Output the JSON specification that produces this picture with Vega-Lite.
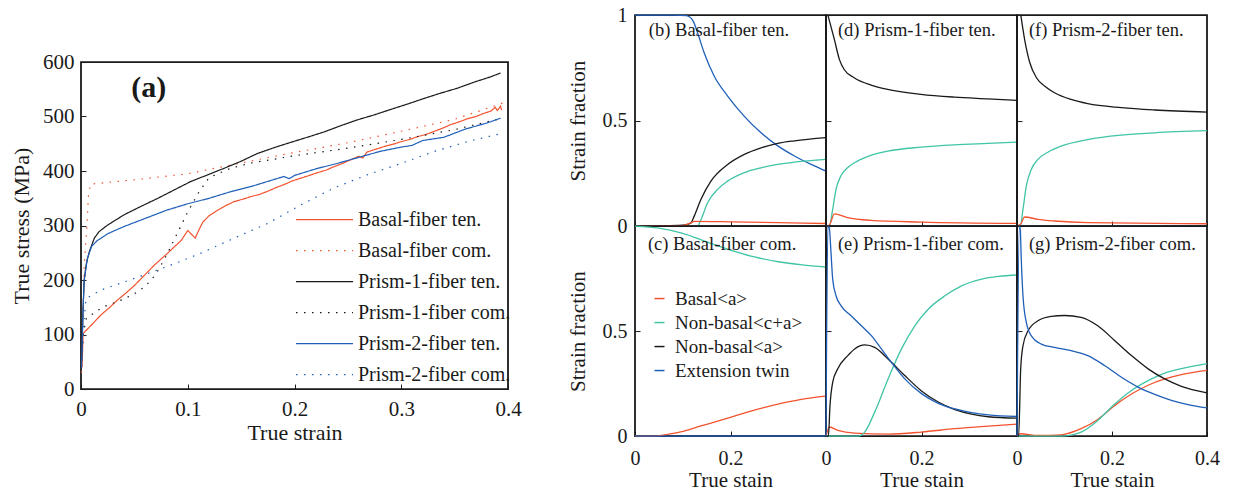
{
  "$schema": "https://vega.github.io/schema/vega-lite/v6.json",
  "padding": {"left": 9, "top": 4, "right": 4, "bottom": 0},
  "config": {
    "font": "Liberation Serif",
    "view": {"stroke": "#1a1a1a", "strokeWidth": 1.8},
    "axis": {
      "domain": false, "grid": false, "tickSize": -5, "tickColor": "#1a1a1a", "tickWidth": 1,
      "labelColor": "#1a1a1a", "titleColor": "#1a1a1a", "titleFontWeight": "normal",
      "labelFontSize": 20, "titleFontSize": 21, "labelPadding": 12,
      "labelFlush": false, "labelOverlap": false
    },
    "legend": {"labelColor": "#1a1a1a", "padding": 0}
  },
  "datasets": {
    "stress": [
      {"series": "Basal-fiber ten.", "strain": 0.001, "stress": 40},
      {"series": "Basal-fiber ten.", "strain": 0.002, "stress": 102},
      {"series": "Basal-fiber ten.", "strain": 0.01, "stress": 118},
      {"series": "Basal-fiber ten.", "strain": 0.0187, "stress": 136},
      {"series": "Basal-fiber ten.", "strain": 0.027, "stress": 150},
      {"series": "Basal-fiber ten.", "strain": 0.034, "stress": 163},
      {"series": "Basal-fiber ten.", "strain": 0.042, "stress": 176},
      {"series": "Basal-fiber ten.", "strain": 0.05, "stress": 190},
      {"series": "Basal-fiber ten.", "strain": 0.059, "stress": 208},
      {"series": "Basal-fiber ten.", "strain": 0.069, "stress": 228},
      {"series": "Basal-fiber ten.", "strain": 0.081, "stress": 249},
      {"series": "Basal-fiber ten.", "strain": 0.088, "stress": 262},
      {"series": "Basal-fiber ten.", "strain": 0.094, "stress": 273},
      {"series": "Basal-fiber ten.", "strain": 0.1, "stress": 291},
      {"series": "Basal-fiber ten.", "strain": 0.103, "stress": 285},
      {"series": "Basal-fiber ten.", "strain": 0.107, "stress": 277},
      {"series": "Basal-fiber ten.", "strain": 0.11, "stress": 290},
      {"series": "Basal-fiber ten.", "strain": 0.114, "stress": 306},
      {"series": "Basal-fiber ten.", "strain": 0.12, "stress": 318},
      {"series": "Basal-fiber ten.", "strain": 0.128, "stress": 328},
      {"series": "Basal-fiber ten.", "strain": 0.136, "stress": 337},
      {"series": "Basal-fiber ten.", "strain": 0.1435, "stress": 344},
      {"series": "Basal-fiber ten.", "strain": 0.151, "stress": 348},
      {"series": "Basal-fiber ten.", "strain": 0.159, "stress": 353},
      {"series": "Basal-fiber ten.", "strain": 0.167, "stress": 357},
      {"series": "Basal-fiber ten.", "strain": 0.175, "stress": 363},
      {"series": "Basal-fiber ten.", "strain": 0.183, "stress": 370},
      {"series": "Basal-fiber ten.", "strain": 0.19, "stress": 375},
      {"series": "Basal-fiber ten.", "strain": 0.198, "stress": 382},
      {"series": "Basal-fiber ten.", "strain": 0.206, "stress": 387},
      {"series": "Basal-fiber ten.", "strain": 0.214, "stress": 392},
      {"series": "Basal-fiber ten.", "strain": 0.2215, "stress": 397},
      {"series": "Basal-fiber ten.", "strain": 0.23, "stress": 402},
      {"series": "Basal-fiber ten.", "strain": 0.237, "stress": 408},
      {"series": "Basal-fiber ten.", "strain": 0.245, "stress": 414},
      {"series": "Basal-fiber ten.", "strain": 0.253, "stress": 421},
      {"series": "Basal-fiber ten.", "strain": 0.26, "stress": 427},
      {"series": "Basal-fiber ten.", "strain": 0.264, "stress": 424},
      {"series": "Basal-fiber ten.", "strain": 0.268, "stress": 435},
      {"series": "Basal-fiber ten.", "strain": 0.276, "stress": 440},
      {"series": "Basal-fiber ten.", "strain": 0.284, "stress": 445},
      {"series": "Basal-fiber ten.", "strain": 0.292, "stress": 449},
      {"series": "Basal-fiber ten.", "strain": 0.3, "stress": 454},
      {"series": "Basal-fiber ten.", "strain": 0.308, "stress": 458},
      {"series": "Basal-fiber ten.", "strain": 0.315, "stress": 463},
      {"series": "Basal-fiber ten.", "strain": 0.323, "stress": 467},
      {"series": "Basal-fiber ten.", "strain": 0.331, "stress": 473},
      {"series": "Basal-fiber ten.", "strain": 0.338, "stress": 478},
      {"series": "Basal-fiber ten.", "strain": 0.346, "stress": 485},
      {"series": "Basal-fiber ten.", "strain": 0.354, "stress": 490},
      {"series": "Basal-fiber ten.", "strain": 0.362, "stress": 496},
      {"series": "Basal-fiber ten.", "strain": 0.37, "stress": 500},
      {"series": "Basal-fiber ten.", "strain": 0.3775, "stress": 506},
      {"series": "Basal-fiber ten.", "strain": 0.384, "stress": 510},
      {"series": "Basal-fiber ten.", "strain": 0.388, "stress": 517},
      {"series": "Basal-fiber ten.", "strain": 0.39, "stress": 511},
      {"series": "Basal-fiber ten.", "strain": 0.393, "stress": 519},
      {"series": "Basal-fiber ten.", "strain": 0.394, "stress": 512},

      {"series": "Basal-fiber com.", "strain": 0.0005, "stress": 30},
      {"series": "Basal-fiber com.", "strain": 0.003, "stress": 226},
      {"series": "Basal-fiber com.", "strain": 0.0056, "stress": 300},
      {"series": "Basal-fiber com.", "strain": 0.007, "stress": 356},
      {"series": "Basal-fiber com.", "strain": 0.009, "stress": 376},
      {"series": "Basal-fiber com.", "strain": 0.05, "stress": 384},
      {"series": "Basal-fiber com.", "strain": 0.1, "stress": 395},
      {"series": "Basal-fiber com.", "strain": 0.15, "stress": 415},
      {"series": "Basal-fiber com.", "strain": 0.2, "stress": 434},
      {"series": "Basal-fiber com.", "strain": 0.25, "stress": 452},
      {"series": "Basal-fiber com.", "strain": 0.3, "stress": 473},
      {"series": "Basal-fiber com.", "strain": 0.35, "stress": 495},
      {"series": "Basal-fiber com.", "strain": 0.4, "stress": 528},

      {"series": "Prism-1-fiber ten.", "strain": 0.0005, "stress": 50},
      {"series": "Prism-1-fiber ten.", "strain": 0.002, "stress": 150},
      {"series": "Prism-1-fiber ten.", "strain": 0.003, "stress": 200},
      {"series": "Prism-1-fiber ten.", "strain": 0.005, "stress": 230},
      {"series": "Prism-1-fiber ten.", "strain": 0.0078, "stress": 252},
      {"series": "Prism-1-fiber ten.", "strain": 0.0125, "stress": 277},
      {"series": "Prism-1-fiber ten.", "strain": 0.017, "stress": 289},
      {"series": "Prism-1-fiber ten.", "strain": 0.025, "stress": 301},
      {"series": "Prism-1-fiber ten.", "strain": 0.0406, "stress": 320},
      {"series": "Prism-1-fiber ten.", "strain": 0.056, "stress": 335},
      {"series": "Prism-1-fiber ten.", "strain": 0.072, "stress": 350},
      {"series": "Prism-1-fiber ten.", "strain": 0.087, "stress": 365},
      {"series": "Prism-1-fiber ten.", "strain": 0.103, "stress": 381},
      {"series": "Prism-1-fiber ten.", "strain": 0.1186, "stress": 393},
      {"series": "Prism-1-fiber ten.", "strain": 0.134, "stress": 405},
      {"series": "Prism-1-fiber ten.", "strain": 0.15, "stress": 418},
      {"series": "Prism-1-fiber ten.", "strain": 0.165, "stress": 432},
      {"series": "Prism-1-fiber ten.", "strain": 0.181, "stress": 443},
      {"series": "Prism-1-fiber ten.", "strain": 0.197, "stress": 453},
      {"series": "Prism-1-fiber ten.", "strain": 0.212, "stress": 462},
      {"series": "Prism-1-fiber ten.", "strain": 0.228, "stress": 472},
      {"series": "Prism-1-fiber ten.", "strain": 0.243, "stress": 483},
      {"series": "Prism-1-fiber ten.", "strain": 0.259, "stress": 494},
      {"series": "Prism-1-fiber ten.", "strain": 0.2746, "stress": 503},
      {"series": "Prism-1-fiber ten.", "strain": 0.29, "stress": 513},
      {"series": "Prism-1-fiber ten.", "strain": 0.306, "stress": 523},
      {"series": "Prism-1-fiber ten.", "strain": 0.321, "stress": 533},
      {"series": "Prism-1-fiber ten.", "strain": 0.337, "stress": 543},
      {"series": "Prism-1-fiber ten.", "strain": 0.3526, "stress": 552},
      {"series": "Prism-1-fiber ten.", "strain": 0.368, "stress": 563},
      {"series": "Prism-1-fiber ten.", "strain": 0.384, "stress": 573},
      {"series": "Prism-1-fiber ten.", "strain": 0.393, "stress": 580},

      {"series": "Prism-1-fiber com.", "strain": 0.0005, "stress": 40},
      {"series": "Prism-1-fiber com.", "strain": 0.002, "stress": 100},
      {"series": "Prism-1-fiber com.", "strain": 0.005, "stress": 130},
      {"series": "Prism-1-fiber com.", "strain": 0.02, "stress": 150},
      {"series": "Prism-1-fiber com.", "strain": 0.04, "stress": 165},
      {"series": "Prism-1-fiber com.", "strain": 0.05, "stress": 175},
      {"series": "Prism-1-fiber com.", "strain": 0.06, "stress": 188},
      {"series": "Prism-1-fiber com.", "strain": 0.07, "stress": 210},
      {"series": "Prism-1-fiber com.", "strain": 0.08, "stress": 245},
      {"series": "Prism-1-fiber com.", "strain": 0.09, "stress": 285},
      {"series": "Prism-1-fiber com.", "strain": 0.1, "stress": 325},
      {"series": "Prism-1-fiber com.", "strain": 0.11, "stress": 360},
      {"series": "Prism-1-fiber com.", "strain": 0.12, "stress": 388},
      {"series": "Prism-1-fiber com.", "strain": 0.14, "stress": 405},
      {"series": "Prism-1-fiber com.", "strain": 0.16, "stress": 415},
      {"series": "Prism-1-fiber com.", "strain": 0.2, "stress": 428},
      {"series": "Prism-1-fiber com.", "strain": 0.25, "stress": 442},
      {"series": "Prism-1-fiber com.", "strain": 0.3, "stress": 458},
      {"series": "Prism-1-fiber com.", "strain": 0.35, "stress": 476},
      {"series": "Prism-1-fiber com.", "strain": 0.395, "stress": 497},

      {"series": "Prism-2-fiber ten.", "strain": 0.0005, "stress": 40},
      {"series": "Prism-2-fiber ten.", "strain": 0.002, "stress": 150},
      {"series": "Prism-2-fiber ten.", "strain": 0.003, "stress": 200},
      {"series": "Prism-2-fiber ten.", "strain": 0.006, "stress": 240},
      {"series": "Prism-2-fiber ten.", "strain": 0.01, "stress": 262},
      {"series": "Prism-2-fiber ten.", "strain": 0.015, "stress": 272},
      {"series": "Prism-2-fiber ten.", "strain": 0.025, "stress": 285},
      {"series": "Prism-2-fiber ten.", "strain": 0.04, "stress": 298},
      {"series": "Prism-2-fiber ten.", "strain": 0.06, "stress": 313},
      {"series": "Prism-2-fiber ten.", "strain": 0.08, "stress": 328},
      {"series": "Prism-2-fiber ten.", "strain": 0.1, "stress": 340},
      {"series": "Prism-2-fiber ten.", "strain": 0.12, "stress": 350},
      {"series": "Prism-2-fiber ten.", "strain": 0.14, "stress": 362},
      {"series": "Prism-2-fiber ten.", "strain": 0.16, "stress": 372},
      {"series": "Prism-2-fiber ten.", "strain": 0.18, "stress": 384},
      {"series": "Prism-2-fiber ten.", "strain": 0.19, "stress": 390},
      {"series": "Prism-2-fiber ten.", "strain": 0.195, "stress": 386},
      {"series": "Prism-2-fiber ten.", "strain": 0.2, "stress": 392},
      {"series": "Prism-2-fiber ten.", "strain": 0.22, "stress": 404},
      {"series": "Prism-2-fiber ten.", "strain": 0.24, "stress": 414},
      {"series": "Prism-2-fiber ten.", "strain": 0.26, "stress": 425},
      {"series": "Prism-2-fiber ten.", "strain": 0.28, "stress": 436},
      {"series": "Prism-2-fiber ten.", "strain": 0.3, "stress": 444},
      {"series": "Prism-2-fiber ten.", "strain": 0.31, "stress": 447},
      {"series": "Prism-2-fiber ten.", "strain": 0.32, "stress": 456},
      {"series": "Prism-2-fiber ten.", "strain": 0.34, "stress": 462},
      {"series": "Prism-2-fiber ten.", "strain": 0.36, "stress": 477},
      {"series": "Prism-2-fiber ten.", "strain": 0.38, "stress": 488},
      {"series": "Prism-2-fiber ten.", "strain": 0.393, "stress": 497},

      {"series": "Prism-2-fiber com.", "strain": 0.0005, "stress": 40},
      {"series": "Prism-2-fiber com.", "strain": 0.003, "stress": 130},
      {"series": "Prism-2-fiber com.", "strain": 0.0047, "stress": 166},
      {"series": "Prism-2-fiber com.", "strain": 0.019, "stress": 182},
      {"series": "Prism-2-fiber com.", "strain": 0.05, "stress": 203},
      {"series": "Prism-2-fiber com.", "strain": 0.081, "stress": 225},
      {"series": "Prism-2-fiber com.", "strain": 0.112, "stress": 249},
      {"series": "Prism-2-fiber com.", "strain": 0.1435, "stress": 277},
      {"series": "Prism-2-fiber com.", "strain": 0.175, "stress": 304},
      {"series": "Prism-2-fiber com.", "strain": 0.206, "stress": 338},
      {"series": "Prism-2-fiber com.", "strain": 0.237, "stress": 369},
      {"series": "Prism-2-fiber com.", "strain": 0.268, "stress": 393},
      {"series": "Prism-2-fiber com.", "strain": 0.3, "stress": 414},
      {"series": "Prism-2-fiber com.", "strain": 0.331, "stress": 436},
      {"series": "Prism-2-fiber com.", "strain": 0.362, "stress": 454},
      {"series": "Prism-2-fiber com.", "strain": 0.396, "stress": 470}
    ],
    "frac": [
      {"panel": "b", "mode": "Extension twin", "strain": 0, "fraction": 1},
      {"panel": "b", "mode": "Extension twin", "strain": 0.08, "fraction": 1},
      {"panel": "b", "mode": "Extension twin", "strain": 0.108, "fraction": 0.997},
      {"panel": "b", "mode": "Extension twin", "strain": 0.121, "fraction": 0.975},
      {"panel": "b", "mode": "Extension twin", "strain": 0.131, "fraction": 0.916},
      {"panel": "b", "mode": "Extension twin", "strain": 0.145, "fraction": 0.82},
      {"panel": "b", "mode": "Extension twin", "strain": 0.166, "fraction": 0.71},
      {"panel": "b", "mode": "Extension twin", "strain": 0.194, "fraction": 0.616},
      {"panel": "b", "mode": "Extension twin", "strain": 0.229, "fraction": 0.52},
      {"panel": "b", "mode": "Extension twin", "strain": 0.264, "fraction": 0.442},
      {"panel": "b", "mode": "Extension twin", "strain": 0.299, "fraction": 0.38},
      {"panel": "b", "mode": "Extension twin", "strain": 0.334, "fraction": 0.332},
      {"panel": "b", "mode": "Extension twin", "strain": 0.369, "fraction": 0.292},
      {"panel": "b", "mode": "Extension twin", "strain": 0.4, "fraction": 0.26},
      {"panel": "b", "mode": "Non-basal<a>", "strain": 0, "fraction": 0},
      {"panel": "b", "mode": "Non-basal<a>", "strain": 0.09, "fraction": 0.003},
      {"panel": "b", "mode": "Non-basal<a>", "strain": 0.11, "fraction": 0.008},
      {"panel": "b", "mode": "Non-basal<a>", "strain": 0.117, "fraction": 0.014},
      {"panel": "b", "mode": "Non-basal<a>", "strain": 0.124, "fraction": 0.047},
      {"panel": "b", "mode": "Non-basal<a>", "strain": 0.138, "fraction": 0.126},
      {"panel": "b", "mode": "Non-basal<a>", "strain": 0.159, "fraction": 0.213},
      {"panel": "b", "mode": "Non-basal<a>", "strain": 0.194, "fraction": 0.292},
      {"panel": "b", "mode": "Non-basal<a>", "strain": 0.229, "fraction": 0.34},
      {"panel": "b", "mode": "Non-basal<a>", "strain": 0.264, "fraction": 0.371},
      {"panel": "b", "mode": "Non-basal<a>", "strain": 0.299, "fraction": 0.392},
      {"panel": "b", "mode": "Non-basal<a>", "strain": 0.334, "fraction": 0.404},
      {"panel": "b", "mode": "Non-basal<a>", "strain": 0.4, "fraction": 0.419},
      {"panel": "b", "mode": "Non-basal<c+a>", "strain": 0, "fraction": 0},
      {"panel": "b", "mode": "Non-basal<c+a>", "strain": 0.131, "fraction": 0},
      {"panel": "b", "mode": "Non-basal<c+a>", "strain": 0.138, "fraction": 0.03},
      {"panel": "b", "mode": "Non-basal<c+a>", "strain": 0.152, "fraction": 0.11},
      {"panel": "b", "mode": "Non-basal<c+a>", "strain": 0.173, "fraction": 0.174},
      {"panel": "b", "mode": "Non-basal<c+a>", "strain": 0.194, "fraction": 0.213},
      {"panel": "b", "mode": "Non-basal<c+a>", "strain": 0.229, "fraction": 0.253},
      {"panel": "b", "mode": "Non-basal<c+a>", "strain": 0.264, "fraction": 0.276},
      {"panel": "b", "mode": "Non-basal<c+a>", "strain": 0.299, "fraction": 0.292},
      {"panel": "b", "mode": "Non-basal<c+a>", "strain": 0.334, "fraction": 0.303},
      {"panel": "b", "mode": "Non-basal<c+a>", "strain": 0.4, "fraction": 0.316},
      {"panel": "b", "mode": "Basal<a>", "strain": 0, "fraction": 0},
      {"panel": "b", "mode": "Basal<a>", "strain": 0.1, "fraction": 0.002},
      {"panel": "b", "mode": "Basal<a>", "strain": 0.117, "fraction": 0.015},
      {"panel": "b", "mode": "Basal<a>", "strain": 0.124, "fraction": 0.022},
      {"panel": "b", "mode": "Basal<a>", "strain": 0.2, "fraction": 0.02},
      {"panel": "b", "mode": "Basal<a>", "strain": 0.3, "fraction": 0.016},
      {"panel": "b", "mode": "Basal<a>", "strain": 0.4, "fraction": 0.012},

      {"panel": "d", "mode": "Extension twin", "strain": 0, "fraction": 0},
      {"panel": "d", "mode": "Extension twin", "strain": 0.4, "fraction": 0},
      {"panel": "d", "mode": "Non-basal<a>", "strain": 0.004, "fraction": 1},
      {"panel": "d", "mode": "Non-basal<a>", "strain": 0.0175, "fraction": 0.885},
      {"panel": "d", "mode": "Non-basal<a>", "strain": 0.028, "fraction": 0.79},
      {"panel": "d", "mode": "Non-basal<a>", "strain": 0.038, "fraction": 0.742},
      {"panel": "d", "mode": "Non-basal<a>", "strain": 0.059, "fraction": 0.703},
      {"panel": "d", "mode": "Non-basal<a>", "strain": 0.094, "fraction": 0.668},
      {"panel": "d", "mode": "Non-basal<a>", "strain": 0.129, "fraction": 0.648},
      {"panel": "d", "mode": "Non-basal<a>", "strain": 0.199, "fraction": 0.624},
      {"panel": "d", "mode": "Non-basal<a>", "strain": 0.269, "fraction": 0.611},
      {"panel": "d", "mode": "Non-basal<a>", "strain": 0.339, "fraction": 0.603},
      {"panel": "d", "mode": "Non-basal<a>", "strain": 0.4, "fraction": 0.596},
      {"panel": "d", "mode": "Non-basal<c+a>", "strain": 0, "fraction": 0},
      {"panel": "d", "mode": "Non-basal<c+a>", "strain": 0.007, "fraction": 0},
      {"panel": "d", "mode": "Non-basal<c+a>", "strain": 0.014, "fraction": 0.079},
      {"panel": "d", "mode": "Non-basal<c+a>", "strain": 0.021, "fraction": 0.174},
      {"panel": "d", "mode": "Non-basal<c+a>", "strain": 0.031, "fraction": 0.237},
      {"panel": "d", "mode": "Non-basal<c+a>", "strain": 0.045, "fraction": 0.276},
      {"panel": "d", "mode": "Non-basal<c+a>", "strain": 0.066, "fraction": 0.308},
      {"panel": "d", "mode": "Non-basal<c+a>", "strain": 0.094, "fraction": 0.335},
      {"panel": "d", "mode": "Non-basal<c+a>", "strain": 0.129, "fraction": 0.355},
      {"panel": "d", "mode": "Non-basal<c+a>", "strain": 0.199, "fraction": 0.374},
      {"panel": "d", "mode": "Non-basal<c+a>", "strain": 0.269, "fraction": 0.385},
      {"panel": "d", "mode": "Non-basal<c+a>", "strain": 0.339, "fraction": 0.392},
      {"panel": "d", "mode": "Non-basal<c+a>", "strain": 0.4, "fraction": 0.398},
      {"panel": "d", "mode": "Basal<a>", "strain": 0, "fraction": 0},
      {"panel": "d", "mode": "Basal<a>", "strain": 0.007, "fraction": 0.005},
      {"panel": "d", "mode": "Basal<a>", "strain": 0.0175, "fraction": 0.058},
      {"panel": "d", "mode": "Basal<a>", "strain": 0.045, "fraction": 0.04},
      {"panel": "d", "mode": "Basal<a>", "strain": 0.094, "fraction": 0.027},
      {"panel": "d", "mode": "Basal<a>", "strain": 0.199, "fraction": 0.019},
      {"panel": "d", "mode": "Basal<a>", "strain": 0.4, "fraction": 0.013},

      {"panel": "f", "mode": "Extension twin", "strain": 0, "fraction": 0},
      {"panel": "f", "mode": "Extension twin", "strain": 0.4, "fraction": 0},
      {"panel": "f", "mode": "Non-basal<a>", "strain": 0.008, "fraction": 1},
      {"panel": "f", "mode": "Non-basal<a>", "strain": 0.016, "fraction": 0.885},
      {"panel": "f", "mode": "Non-basal<a>", "strain": 0.027, "fraction": 0.774},
      {"panel": "f", "mode": "Non-basal<a>", "strain": 0.041, "fraction": 0.703},
      {"panel": "f", "mode": "Non-basal<a>", "strain": 0.058, "fraction": 0.664},
      {"panel": "f", "mode": "Non-basal<a>", "strain": 0.079, "fraction": 0.632},
      {"panel": "f", "mode": "Non-basal<a>", "strain": 0.114, "fraction": 0.6},
      {"panel": "f", "mode": "Non-basal<a>", "strain": 0.149, "fraction": 0.58},
      {"panel": "f", "mode": "Non-basal<a>", "strain": 0.22, "fraction": 0.561},
      {"panel": "f", "mode": "Non-basal<a>", "strain": 0.29, "fraction": 0.55},
      {"panel": "f", "mode": "Non-basal<a>", "strain": 0.4, "fraction": 0.54},
      {"panel": "f", "mode": "Non-basal<c+a>", "strain": 0, "fraction": 0},
      {"panel": "f", "mode": "Non-basal<c+a>", "strain": 0.007, "fraction": 0},
      {"panel": "f", "mode": "Non-basal<c+a>", "strain": 0.0126, "fraction": 0.079},
      {"panel": "f", "mode": "Non-basal<c+a>", "strain": 0.0196, "fraction": 0.19},
      {"panel": "f", "mode": "Non-basal<c+a>", "strain": 0.03, "fraction": 0.268},
      {"panel": "f", "mode": "Non-basal<c+a>", "strain": 0.044, "fraction": 0.316},
      {"panel": "f", "mode": "Non-basal<c+a>", "strain": 0.065, "fraction": 0.35},
      {"panel": "f", "mode": "Non-basal<c+a>", "strain": 0.093, "fraction": 0.379},
      {"panel": "f", "mode": "Non-basal<c+a>", "strain": 0.149, "fraction": 0.41},
      {"panel": "f", "mode": "Non-basal<c+a>", "strain": 0.22, "fraction": 0.431},
      {"panel": "f", "mode": "Non-basal<c+a>", "strain": 0.29, "fraction": 0.442},
      {"panel": "f", "mode": "Non-basal<c+a>", "strain": 0.4, "fraction": 0.452},
      {"panel": "f", "mode": "Basal<a>", "strain": 0, "fraction": 0},
      {"panel": "f", "mode": "Basal<a>", "strain": 0.008, "fraction": 0.01},
      {"panel": "f", "mode": "Basal<a>", "strain": 0.016, "fraction": 0.043},
      {"panel": "f", "mode": "Basal<a>", "strain": 0.044, "fraction": 0.032},
      {"panel": "f", "mode": "Basal<a>", "strain": 0.079, "fraction": 0.024},
      {"panel": "f", "mode": "Basal<a>", "strain": 0.149, "fraction": 0.016},
      {"panel": "f", "mode": "Basal<a>", "strain": 0.4, "fraction": 0.011},

      {"panel": "c", "mode": "Non-basal<a>", "strain": 0, "fraction": 0},
      {"panel": "c", "mode": "Non-basal<a>", "strain": 0.4, "fraction": 0},
      {"panel": "c", "mode": "Non-basal<c+a>", "strain": 0, "fraction": 1},
      {"panel": "c", "mode": "Non-basal<c+a>", "strain": 0.05, "fraction": 0.99},
      {"panel": "c", "mode": "Non-basal<c+a>", "strain": 0.1, "fraction": 0.965},
      {"panel": "c", "mode": "Non-basal<c+a>", "strain": 0.15, "fraction": 0.925},
      {"panel": "c", "mode": "Non-basal<c+a>", "strain": 0.2, "fraction": 0.885},
      {"panel": "c", "mode": "Non-basal<c+a>", "strain": 0.25, "fraction": 0.853},
      {"panel": "c", "mode": "Non-basal<c+a>", "strain": 0.3, "fraction": 0.83},
      {"panel": "c", "mode": "Non-basal<c+a>", "strain": 0.35, "fraction": 0.815},
      {"panel": "c", "mode": "Non-basal<c+a>", "strain": 0.4, "fraction": 0.805},
      {"panel": "c", "mode": "Basal<a>", "strain": 0, "fraction": 0},
      {"panel": "c", "mode": "Basal<a>", "strain": 0.04, "fraction": 0},
      {"panel": "c", "mode": "Basal<a>", "strain": 0.068, "fraction": 0.008},
      {"panel": "c", "mode": "Basal<a>", "strain": 0.103, "fraction": 0.024},
      {"panel": "c", "mode": "Basal<a>", "strain": 0.138, "fraction": 0.048},
      {"panel": "c", "mode": "Basal<a>", "strain": 0.173, "fraction": 0.071},
      {"panel": "c", "mode": "Basal<a>", "strain": 0.208, "fraction": 0.095},
      {"panel": "c", "mode": "Basal<a>", "strain": 0.243, "fraction": 0.119},
      {"panel": "c", "mode": "Basal<a>", "strain": 0.278, "fraction": 0.14},
      {"panel": "c", "mode": "Basal<a>", "strain": 0.313, "fraction": 0.159},
      {"panel": "c", "mode": "Basal<a>", "strain": 0.348, "fraction": 0.175},
      {"panel": "c", "mode": "Basal<a>", "strain": 0.4, "fraction": 0.19},
      {"panel": "c", "mode": "Extension twin", "strain": 0, "fraction": 0},
      {"panel": "c", "mode": "Extension twin", "strain": 0.4, "fraction": 0},

      {"panel": "e", "mode": "Basal<a>", "strain": 0, "fraction": 0},
      {"panel": "e", "mode": "Basal<a>", "strain": 0.004, "fraction": 0.03},
      {"panel": "e", "mode": "Basal<a>", "strain": 0.007, "fraction": 0.043},
      {"panel": "e", "mode": "Basal<a>", "strain": 0.025, "fraction": 0.027},
      {"panel": "e", "mode": "Basal<a>", "strain": 0.06, "fraction": 0.014},
      {"panel": "e", "mode": "Basal<a>", "strain": 0.13, "fraction": 0.0095},
      {"panel": "e", "mode": "Basal<a>", "strain": 0.2, "fraction": 0.019},
      {"panel": "e", "mode": "Basal<a>", "strain": 0.27, "fraction": 0.035},
      {"panel": "e", "mode": "Basal<a>", "strain": 0.34, "fraction": 0.047},
      {"panel": "e", "mode": "Basal<a>", "strain": 0.4, "fraction": 0.057},
      {"panel": "e", "mode": "Non-basal<c+a>", "strain": 0, "fraction": 0},
      {"panel": "e", "mode": "Non-basal<c+a>", "strain": 0.067, "fraction": 0},
      {"panel": "e", "mode": "Non-basal<c+a>", "strain": 0.081, "fraction": 0.019},
      {"panel": "e", "mode": "Non-basal<c+a>", "strain": 0.102, "fraction": 0.114},
      {"panel": "e", "mode": "Non-basal<c+a>", "strain": 0.13, "fraction": 0.272},
      {"panel": "e", "mode": "Non-basal<c+a>", "strain": 0.158, "fraction": 0.415},
      {"panel": "e", "mode": "Non-basal<c+a>", "strain": 0.186, "fraction": 0.525},
      {"panel": "e", "mode": "Non-basal<c+a>", "strain": 0.214, "fraction": 0.604},
      {"panel": "e", "mode": "Non-basal<c+a>", "strain": 0.249, "fraction": 0.668},
      {"panel": "e", "mode": "Non-basal<c+a>", "strain": 0.284, "fraction": 0.715},
      {"panel": "e", "mode": "Non-basal<c+a>", "strain": 0.326, "fraction": 0.747},
      {"panel": "e", "mode": "Non-basal<c+a>", "strain": 0.361, "fraction": 0.76},
      {"panel": "e", "mode": "Non-basal<c+a>", "strain": 0.4, "fraction": 0.767},
      {"panel": "e", "mode": "Non-basal<a>", "strain": 0, "fraction": 0},
      {"panel": "e", "mode": "Non-basal<a>", "strain": 0.005, "fraction": 0},
      {"panel": "e", "mode": "Non-basal<a>", "strain": 0.0084, "fraction": 0.146},
      {"panel": "e", "mode": "Non-basal<a>", "strain": 0.014, "fraction": 0.256},
      {"panel": "e", "mode": "Non-basal<a>", "strain": 0.0246, "fraction": 0.32},
      {"panel": "e", "mode": "Non-basal<a>", "strain": 0.0456, "fraction": 0.383},
      {"panel": "e", "mode": "Non-basal<a>", "strain": 0.06, "fraction": 0.415},
      {"panel": "e", "mode": "Non-basal<a>", "strain": 0.081, "fraction": 0.434},
      {"panel": "e", "mode": "Non-basal<a>", "strain": 0.102, "fraction": 0.422},
      {"panel": "e", "mode": "Non-basal<a>", "strain": 0.13, "fraction": 0.367},
      {"panel": "e", "mode": "Non-basal<a>", "strain": 0.165, "fraction": 0.288},
      {"panel": "e", "mode": "Non-basal<a>", "strain": 0.2, "fraction": 0.215},
      {"panel": "e", "mode": "Non-basal<a>", "strain": 0.235, "fraction": 0.162},
      {"panel": "e", "mode": "Non-basal<a>", "strain": 0.27, "fraction": 0.126},
      {"panel": "e", "mode": "Non-basal<a>", "strain": 0.305, "fraction": 0.104},
      {"panel": "e", "mode": "Non-basal<a>", "strain": 0.34, "fraction": 0.092},
      {"panel": "e", "mode": "Non-basal<a>", "strain": 0.4, "fraction": 0.085},
      {"panel": "e", "mode": "Extension twin", "strain": 0, "fraction": 0},
      {"panel": "e", "mode": "Extension twin", "strain": 0.004, "fraction": 1},
      {"panel": "e", "mode": "Extension twin", "strain": 0.007, "fraction": 0.99},
      {"panel": "e", "mode": "Extension twin", "strain": 0.0105, "fraction": 0.873},
      {"panel": "e", "mode": "Extension twin", "strain": 0.014, "fraction": 0.747},
      {"panel": "e", "mode": "Extension twin", "strain": 0.021, "fraction": 0.668},
      {"panel": "e", "mode": "Extension twin", "strain": 0.0316, "fraction": 0.62},
      {"panel": "e", "mode": "Extension twin", "strain": 0.0526, "fraction": 0.573},
      {"panel": "e", "mode": "Extension twin", "strain": 0.074, "fraction": 0.525},
      {"panel": "e", "mode": "Extension twin", "strain": 0.095, "fraction": 0.478},
      {"panel": "e", "mode": "Extension twin", "strain": 0.116, "fraction": 0.415},
      {"panel": "e", "mode": "Extension twin", "strain": 0.137, "fraction": 0.351},
      {"panel": "e", "mode": "Extension twin", "strain": 0.165, "fraction": 0.272},
      {"panel": "e", "mode": "Extension twin", "strain": 0.2, "fraction": 0.202},
      {"panel": "e", "mode": "Extension twin", "strain": 0.235, "fraction": 0.156},
      {"panel": "e", "mode": "Extension twin", "strain": 0.27, "fraction": 0.129},
      {"panel": "e", "mode": "Extension twin", "strain": 0.305, "fraction": 0.112},
      {"panel": "e", "mode": "Extension twin", "strain": 0.34, "fraction": 0.101},
      {"panel": "e", "mode": "Extension twin", "strain": 0.4, "fraction": 0.093},

      {"panel": "g", "mode": "Basal<a>", "strain": 0, "fraction": 0},
      {"panel": "g", "mode": "Basal<a>", "strain": 0.007, "fraction": 0.011},
      {"panel": "g", "mode": "Basal<a>", "strain": 0.044, "fraction": 0.003},
      {"panel": "g", "mode": "Basal<a>", "strain": 0.093, "fraction": 0.006},
      {"panel": "g", "mode": "Basal<a>", "strain": 0.135, "fraction": 0.035},
      {"panel": "g", "mode": "Basal<a>", "strain": 0.17, "fraction": 0.079},
      {"panel": "g", "mode": "Basal<a>", "strain": 0.206, "fraction": 0.146},
      {"panel": "g", "mode": "Basal<a>", "strain": 0.241, "fraction": 0.2},
      {"panel": "g", "mode": "Basal<a>", "strain": 0.276, "fraction": 0.242},
      {"panel": "g", "mode": "Basal<a>", "strain": 0.311, "fraction": 0.272},
      {"panel": "g", "mode": "Basal<a>", "strain": 0.346, "fraction": 0.293},
      {"panel": "g", "mode": "Basal<a>", "strain": 0.4, "fraction": 0.313},
      {"panel": "g", "mode": "Non-basal<c+a>", "strain": 0, "fraction": 0},
      {"panel": "g", "mode": "Non-basal<c+a>", "strain": 0.093, "fraction": 0},
      {"panel": "g", "mode": "Non-basal<c+a>", "strain": 0.135, "fraction": 0.019},
      {"panel": "g", "mode": "Non-basal<c+a>", "strain": 0.17, "fraction": 0.074},
      {"panel": "g", "mode": "Non-basal<c+a>", "strain": 0.206, "fraction": 0.153},
      {"panel": "g", "mode": "Non-basal<c+a>", "strain": 0.241, "fraction": 0.217},
      {"panel": "g", "mode": "Non-basal<c+a>", "strain": 0.276, "fraction": 0.264},
      {"panel": "g", "mode": "Non-basal<c+a>", "strain": 0.311, "fraction": 0.3},
      {"panel": "g", "mode": "Non-basal<c+a>", "strain": 0.346, "fraction": 0.321},
      {"panel": "g", "mode": "Non-basal<c+a>", "strain": 0.4, "fraction": 0.345},
      {"panel": "g", "mode": "Non-basal<a>", "strain": 0, "fraction": 0},
      {"panel": "g", "mode": "Non-basal<a>", "strain": 0.0035, "fraction": 0},
      {"panel": "g", "mode": "Non-basal<a>", "strain": 0.0077, "fraction": 0.316},
      {"panel": "g", "mode": "Non-basal<a>", "strain": 0.0126, "fraction": 0.43},
      {"panel": "g", "mode": "Non-basal<a>", "strain": 0.023, "fraction": 0.5},
      {"panel": "g", "mode": "Non-basal<a>", "strain": 0.044, "fraction": 0.549},
      {"panel": "g", "mode": "Non-basal<a>", "strain": 0.072, "fraction": 0.57},
      {"panel": "g", "mode": "Non-basal<a>", "strain": 0.1, "fraction": 0.574},
      {"panel": "g", "mode": "Non-basal<a>", "strain": 0.135, "fraction": 0.565},
      {"panel": "g", "mode": "Non-basal<a>", "strain": 0.17, "fraction": 0.525},
      {"panel": "g", "mode": "Non-basal<a>", "strain": 0.206, "fraction": 0.454},
      {"panel": "g", "mode": "Non-basal<a>", "strain": 0.241, "fraction": 0.383},
      {"panel": "g", "mode": "Non-basal<a>", "strain": 0.276, "fraction": 0.32},
      {"panel": "g", "mode": "Non-basal<a>", "strain": 0.311, "fraction": 0.272},
      {"panel": "g", "mode": "Non-basal<a>", "strain": 0.346, "fraction": 0.237},
      {"panel": "g", "mode": "Non-basal<a>", "strain": 0.4, "fraction": 0.206},
      {"panel": "g", "mode": "Extension twin", "strain": 0, "fraction": 0},
      {"panel": "g", "mode": "Extension twin", "strain": 0.005, "fraction": 1},
      {"panel": "g", "mode": "Extension twin", "strain": 0.007, "fraction": 0.98},
      {"panel": "g", "mode": "Extension twin", "strain": 0.009, "fraction": 0.842},
      {"panel": "g", "mode": "Extension twin", "strain": 0.0126, "fraction": 0.668},
      {"panel": "g", "mode": "Extension twin", "strain": 0.0196, "fraction": 0.541},
      {"panel": "g", "mode": "Extension twin", "strain": 0.03, "fraction": 0.478},
      {"panel": "g", "mode": "Extension twin", "strain": 0.051, "fraction": 0.438},
      {"panel": "g", "mode": "Extension twin", "strain": 0.079, "fraction": 0.422},
      {"panel": "g", "mode": "Extension twin", "strain": 0.114, "fraction": 0.407},
      {"panel": "g", "mode": "Extension twin", "strain": 0.149, "fraction": 0.383},
      {"panel": "g", "mode": "Extension twin", "strain": 0.185, "fraction": 0.335},
      {"panel": "g", "mode": "Extension twin", "strain": 0.22, "fraction": 0.28},
      {"panel": "g", "mode": "Extension twin", "strain": 0.255, "fraction": 0.233},
      {"panel": "g", "mode": "Extension twin", "strain": 0.29, "fraction": 0.198},
      {"panel": "g", "mode": "Extension twin", "strain": 0.325, "fraction": 0.17},
      {"panel": "g", "mode": "Extension twin", "strain": 0.36, "fraction": 0.15},
      {"panel": "g", "mode": "Extension twin", "strain": 0.4, "fraction": 0.134}
    ],
    "titles": [
      {"panel": "a", "label": "(a)"},
      {"panel": "b", "label": "(b) Basal-fiber ten."},
      {"panel": "c", "label": "(c) Basal-fiber com."},
      {"panel": "d", "label": "(d) Prism-1-fiber ten."},
      {"panel": "e", "label": "(e) Prism-1-fiber com."},
      {"panel": "f", "label": "(f) Prism-2-fiber ten."},
      {"panel": "g", "label": "(g) Prism-2-fiber com."}
    ]
  },
  "hconcat": [
    {
      "width": 427,
      "height": 327,
      "layer": [
        {
          "data": {"name": "stress"},
          "mark": {"type": "line", "strokeWidth": 1.2},
          "encoding": {
            "x": {"field": "strain", "type": "quantitative", "scale": {"domain": [0, 0.4]},
                  "axis": {"title": "True strain", "values": [0, 0.1, 0.2, 0.3, 0.4], "format": ".2~g",
                           "labelFontSize": 21, "titleFontSize": 22, "labelPadding": 14, "titlePadding": 3}},
            "y": {"field": "stress", "type": "quantitative", "scale": {"domain": [0, 600]},
                  "axis": {"title": "True stress (MPa)", "values": [0, 100, 200, 300, 400, 500, 600], "format": ".3~g",
                           "labelFontSize": 21, "titleFontSize": 22, "labelPadding": 12, "titlePadding": 9}},
            "color": {"field": "series", "type": "nominal",
                      "scale": {"domain": ["Basal-fiber ten.", "Basal-fiber com.", "Prism-1-fiber ten.", "Prism-1-fiber com.", "Prism-2-fiber ten.", "Prism-2-fiber com."],
                                "range": ["#f2532f", "#f2532f", "#1a1a1a", "#1a1a1a", "#1f5fb8", "#1f5fb8"]},
                      "legend": {"orient": "none", "legendX": 233, "legendY": 147, "title": null, "symbolType": "M-3,0H3",
                                 "symbolSize": 361, "symbolStrokeWidth": 1.3, "labelFontSize": 20, "labelOffset": 23, "rowPadding": 10}},
            "strokeDash": {"field": "series", "type": "nominal",
                           "scale": {"domain": ["Basal-fiber ten.", "Basal-fiber com.", "Prism-1-fiber ten.", "Prism-1-fiber com.", "Prism-2-fiber ten.", "Prism-2-fiber com."],
                                     "range": [[1, 0], [1.5, 6.5], [1, 0], [1.5, 6.5], [1, 0], [1.5, 6.5]]},
                           "legend": {"orient": "none", "legendX": 233, "legendY": 147, "title": null, "symbolType": "M-3,0H3",
                                      "symbolSize": 361, "symbolStrokeWidth": 1.3, "labelFontSize": 20, "labelOffset": 23, "rowPadding": 10}}
          }
        },
        {
          "data": {"name": "titles"},
          "transform": [{"filter": "datum.panel === 'a'"}],
          "mark": {"type": "text", "align": "left", "baseline": "middle", "fontSize": 30, "fontWeight": "bold", "color": "#1a1a1a"},
          "encoding": {"x": {"datum": 0.047}, "y": {"datum": 552}, "text": {"field": "label"}}
        }
      ]
    },
    {
      "columns": 3,
      "spacing": 0,
      "bounds": "flush",
      "resolve": {"scale": {"color": "independent"}, "legend": {"color": "independent"}},
      "concat": [
        {
          "width": 191, "height": 211,
          "layer": [
            {
              "data": {"name": "frac"}, "transform": [{"filter": "datum.panel === 'b'"}],
              "mark": {"type": "line", "strokeWidth": 1.3, "interpolate": "monotone"},
              "encoding": {
                "x": {"field": "strain", "type": "quantitative", "scale": {"domain": [0, 0.4]}, "axis": {"values": [0, 0.2, 0.4], "labels": false, "title": null}},
                "y": {"field": "fraction", "type": "quantitative", "scale": {"domain": [0, 1]}, "axis": {"values": [0, 0.5, 1], "format": ".2~g", "title": "Strain fraction", "labelPadding": 13, "titlePadding": 14}},
                "color": {"field": "mode", "type": "nominal", "scale": {"domain": ["Basal<a>", "Non-basal<c+a>", "Non-basal<a>", "Extension twin"], "range": ["#f2532f", "#40c4a6", "#1a1a1a", "#1f5fb8"]}, "legend": null}
              }
            },
            {
              "data": {"name": "titles"}, "transform": [{"filter": "datum.panel === 'b'"}],
              "mark": {"type": "text", "align": "left", "baseline": "middle", "fontSize": 18.5, "color": "#1a1a1a"},
              "encoding": {"x": {"datum": 0.029}, "y": {"datum": 0.927}, "text": {"field": "label"}}
            }
          ]
        },
        {
          "width": 191, "height": 211,
          "layer": [
            {
              "data": {"name": "frac"}, "transform": [{"filter": "datum.panel === 'd'"}],
              "mark": {"type": "line", "strokeWidth": 1.3, "interpolate": "monotone"},
              "encoding": {
                "x": {"field": "strain", "type": "quantitative", "scale": {"domain": [0, 0.4]}, "axis": {"values": [0, 0.2, 0.4], "labels": false, "title": null}},
                "y": {"field": "fraction", "type": "quantitative", "scale": {"domain": [0, 1]}, "axis": {"values": [0, 0.5, 1], "labels": false, "title": null}},
                "color": {"field": "mode", "type": "nominal", "scale": {"domain": ["Basal<a>", "Non-basal<c+a>", "Non-basal<a>", "Extension twin"], "range": ["#f2532f", "#40c4a6", "#1a1a1a", "#1f5fb8"]}, "legend": null}
              }
            },
            {
              "data": {"name": "titles"}, "transform": [{"filter": "datum.panel === 'd'"}],
              "mark": {"type": "text", "align": "left", "baseline": "middle", "fontSize": 18.5, "color": "#1a1a1a"},
              "encoding": {"x": {"datum": 0.025}, "y": {"datum": 0.927}, "text": {"field": "label"}}
            }
          ]
        },
        {
          "width": 190, "height": 211,
          "layer": [
            {
              "data": {"name": "frac"}, "transform": [{"filter": "datum.panel === 'f'"}],
              "mark": {"type": "line", "strokeWidth": 1.3, "interpolate": "monotone"},
              "encoding": {
                "x": {"field": "strain", "type": "quantitative", "scale": {"domain": [0, 0.4]}, "axis": {"values": [0, 0.2, 0.4], "labels": false, "title": null}},
                "y": {"field": "fraction", "type": "quantitative", "scale": {"domain": [0, 1]}, "axis": {"values": [0, 0.5, 1], "labels": false, "title": null}},
                "color": {"field": "mode", "type": "nominal", "scale": {"domain": ["Basal<a>", "Non-basal<c+a>", "Non-basal<a>", "Extension twin"], "range": ["#f2532f", "#40c4a6", "#1a1a1a", "#1f5fb8"]}, "legend": null}
              }
            },
            {
              "data": {"name": "titles"}, "transform": [{"filter": "datum.panel === 'f'"}],
              "mark": {"type": "text", "align": "left", "baseline": "middle", "fontSize": 18.5, "color": "#1a1a1a"},
              "encoding": {"x": {"datum": 0.025}, "y": {"datum": 0.927}, "text": {"field": "label"}}
            }
          ]
        },
        {
          "width": 191, "height": 210,
          "layer": [
            {
              "data": {"name": "frac"}, "transform": [{"filter": "datum.panel === 'c'"}],
              "mark": {"type": "line", "strokeWidth": 1.3, "interpolate": "monotone"},
              "encoding": {
                "x": {"field": "strain", "type": "quantitative", "scale": {"domain": [0, 0.4]}, "axis": {"values": [0, 0.2], "format": ".2~g", "title": "True stain", "labelPadding": 17, "titlePadding": 1}},
                "y": {"field": "fraction", "type": "quantitative", "scale": {"domain": [0, 1]}, "axis": {"values": [0, 0.5], "format": ".2~g", "title": "Strain fraction", "labelPadding": 13, "titlePadding": 14}},
                "color": {"field": "mode", "type": "nominal", "scale": {"domain": ["Basal<a>", "Non-basal<c+a>", "Non-basal<a>", "Extension twin"], "range": ["#f2532f", "#40c4a6", "#1a1a1a", "#1f5fb8"]},
                          "legend": {"orient": "none", "legendX": 15, "legendY": 63, "title": null, "symbolType": "stroke", "symbolSize": 100, "symbolStrokeWidth": 1.5, "labelFontSize": 19, "labelOffset": 6, "rowPadding": 4}}
              }
            },
            {
              "data": {"name": "titles"}, "transform": [{"filter": "datum.panel === 'c'"}],
              "mark": {"type": "text", "align": "left", "baseline": "middle", "fontSize": 18.5, "color": "#1a1a1a"},
              "encoding": {"x": {"datum": 0.027}, "y": {"datum": 0.915}, "text": {"field": "label"}}
            }
          ]
        },
        {
          "width": 191, "height": 210,
          "layer": [
            {
              "data": {"name": "frac"}, "transform": [{"filter": "datum.panel === 'e'"}],
              "mark": {"type": "line", "strokeWidth": 1.3, "interpolate": "monotone"},
              "encoding": {
                "x": {"field": "strain", "type": "quantitative", "scale": {"domain": [0, 0.4]}, "axis": {"values": [0, 0.2], "format": ".2~g", "title": "True stain", "labelPadding": 17, "titlePadding": 1}},
                "y": {"field": "fraction", "type": "quantitative", "scale": {"domain": [0, 1]}, "axis": {"values": [0, 0.5, 1], "labels": false, "title": null}},
                "color": {"field": "mode", "type": "nominal", "scale": {"domain": ["Basal<a>", "Non-basal<c+a>", "Non-basal<a>", "Extension twin"], "range": ["#f2532f", "#40c4a6", "#1a1a1a", "#1f5fb8"]}, "legend": null}
              }
            },
            {
              "data": {"name": "titles"}, "transform": [{"filter": "datum.panel === 'e'"}],
              "mark": {"type": "text", "align": "left", "baseline": "middle", "fontSize": 18.5, "color": "#1a1a1a"},
              "encoding": {"x": {"datum": 0.025}, "y": {"datum": 0.915}, "text": {"field": "label"}}
            }
          ]
        },
        {
          "width": 190, "height": 210,
          "layer": [
            {
              "data": {"name": "frac"}, "transform": [{"filter": "datum.panel === 'g'"}],
              "mark": {"type": "line", "strokeWidth": 1.3, "interpolate": "monotone"},
              "encoding": {
                "x": {"field": "strain", "type": "quantitative", "scale": {"domain": [0, 0.4]}, "axis": {"values": [0, 0.2, 0.4], "format": ".2~g", "title": "True stain", "labelPadding": 17, "titlePadding": 1}},
                "y": {"field": "fraction", "type": "quantitative", "scale": {"domain": [0, 1]}, "axis": {"values": [0, 0.5, 1], "labels": false, "title": null}},
                "color": {"field": "mode", "type": "nominal", "scale": {"domain": ["Basal<a>", "Non-basal<c+a>", "Non-basal<a>", "Extension twin"], "range": ["#f2532f", "#40c4a6", "#1a1a1a", "#1f5fb8"]}, "legend": null}
              }
            },
            {
              "data": {"name": "titles"}, "transform": [{"filter": "datum.panel === 'g'"}],
              "mark": {"type": "text", "align": "left", "baseline": "middle", "fontSize": 18.5, "color": "#1a1a1a"},
              "encoding": {"x": {"datum": 0.025}, "y": {"datum": 0.915}, "text": {"field": "label"}}
            }
          ]
        }
      ]
    }
  ],
  "spacing": 43,
  "center": true,
  "resolve": {"scale": {"color": "independent", "strokeDash": "independent"}, "legend": {"color": "independent", "strokeDash": "independent"}}
}
